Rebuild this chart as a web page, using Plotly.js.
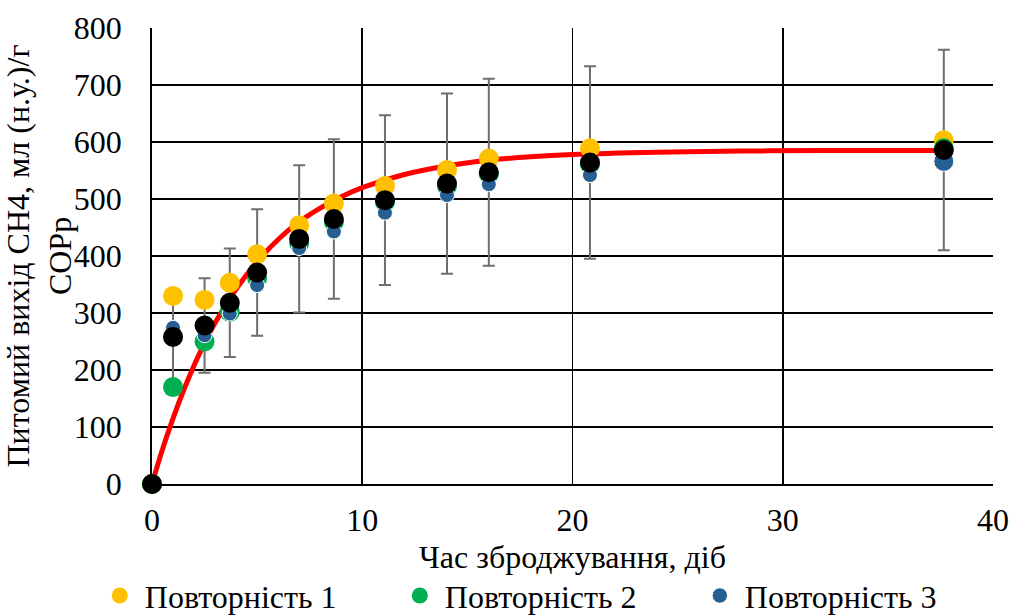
<!DOCTYPE html>
<html>
<head>
<meta charset="utf-8">
<script src="https://cdn.plot.ly/plotly-3.0.1.min.js"></script>
<style>html,body{margin:0;padding:0;background:#fff;}#chart{width:1010px;height:615px;}</style>
</head>
<body>
<div id="chart"></div>
<script>
// Sampling days
const days = [0, 1, 2.5, 3.7, 5, 7, 8.65, 11.08, 14.03, 16.02, 20.83, 37.66];
// Specific CH4 yield, ml/g
const rep1 = [0, 330, 323, 353, 403, 454, 492, 523, 551, 571, 589, 603];
const rep2 = [0, 170, 250, 302, 361, 422, 460, 495, 523, 544, 561, 589];
const rep3 = [0, 274, 261, 299, 349, 414, 443, 476, 507, 526, 542, 566];
const meanYield = [0, 258, 278, 318, 371, 430, 465, 498, 527, 547, 564, 586];
const meanErr = [0, 77, 83, 95, 111, 129, 140, 149, 158, 164, 169, 176];
// Fitted curve
const fitDays = [0, 0.5, 1, 1.5, 2, 2.5, 3, 4, 5, 6, 7, 8, 9, 10, 12, 14, 16, 18, 20, 24, 28, 32, 37.66];
const fitYield = [0, 61, 115, 164, 208, 247, 283, 342, 390, 429, 460, 484, 504, 520, 543, 558, 568, 574, 578, 582, 584, 585, 585];
const seriesNames = ['Повторність 1', 'Повторність 2', 'Повторність 3'];
const xTitle = 'Час зброджування, діб';
const yTitle = 'Питомий вихід СН4, мл (н.у.)/г<br>СОРр';

const FAM = 'Liberation Serif';
const fText = {family: FAM, size: 32, color: '#000'};

const traces = [
  {x: days, y: meanYield, mode: 'markers', marker: {size: 1, opacity: 0}, showlegend: false, hoverinfo: 'skip',
   error_y: {type: 'data', array: meanErr, visible: true, color: '#6e6e6e', thickness: 2, width: 6}},
  {x: fitDays, y: fitYield, mode: 'lines', line: {color: '#ff0000', width: 5, shape: 'spline'}, showlegend: false},
  {x: days, y: rep1, name: seriesNames[0], mode: 'markers', cliponaxis: false, marker: {color: '#ffc000', size: 20, opacity: 1}},
  {x: days, y: rep2, name: seriesNames[1], mode: 'markers', cliponaxis: false, marker: {color: '#00b050', size: 20, opacity: 1}},
  {x: days, y: rep3, name: seriesNames[2], mode: 'markers', cliponaxis: false, marker: {color: '#255e91', opacity: 1, size: [15,15,15,15,15,15,15,15,15,15,15,20]}},
  {x: days, y: meanYield, mode: 'markers', cliponaxis: false, marker: {color: '#000000', size: 20, opacity: 1}, showlegend: false}
];

const layout = {
  width: 1010, height: 615,
  margin: {l: 152, r: 17, t: 28, b: 131, autoexpand: false},
  paper_bgcolor: '#fff', plot_bgcolor: '#fff',
  font: fText,
  showlegend: true,
  legend: {orientation: 'h', x: -0.068, xanchor: 'left', y: -0.245, yanchor: 'middle',
           font: fText, entrywidth: 245, itemwidth: 40, traceorder: 'normal', borderwidth: 0, bgcolor: 'rgba(0,0,0,0)'},
  xaxis: {
    range: [0, 40], dtick: 10, tick0: 0, showgrid: true, gridcolor: '#000', gridwidth: 1.8,
    showline: true, linecolor: '#000', linewidth: 1.8, zeroline: false, ticks: '',
    automargin: false, ticklabelstandoff: 7, tickfont: fText,
    title: {text: xTitle, font: fText, standoff: 8}
  },
  yaxis: {
    range: [0, 800], dtick: 100, tick0: 0, showgrid: true, gridcolor: '#000', gridwidth: 1.8,
    showline: true, linecolor: '#000', linewidth: 1.8, zeroline: false, ticks: '',
    automargin: false, ticklabelstandoff: 22, tickfont: fText,
    title: {text: yTitle, font: fText, standoff: 1}
  }
};

Plotly.newPlot('chart', traces, layout, {displayModeBar: false, staticPlot: true});
</script>
</body>
</html>
